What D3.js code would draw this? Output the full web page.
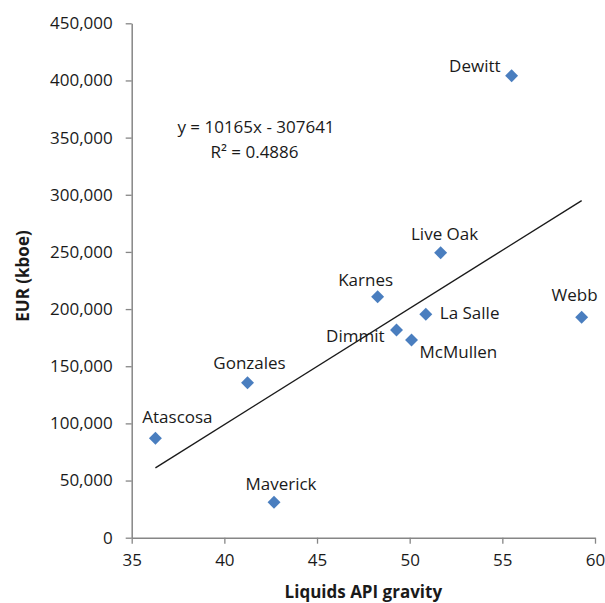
<!DOCTYPE html>
<html>
<head>
<meta charset="utf-8">
<script src="https://cdn.jsdelivr.net/npm/d3@7"></script>
<style>
  body { margin: 0; background: #fff; }
  text { font-family: "Open Sans", "Noto Sans", sans-serif; fill: #1a1a1a; }
</style>
</head>
<body>
<div id="app"></div>
<script>
// data
const counties = ["Dewitt", "Live Oak", "Karnes", "La Salle", "Dimmit", "McMullen", "Webb", "Gonzales", "Atascosa", "Maverick"];
const apiGravity = [55.50, 51.67, 48.27, 50.87, 49.29, 50.10, 59.28, 41.25, 36.28, 42.68];
const eur = [404200, 249300, 210800, 195400, 181700, 172900, 192800, 135600, 87000, 31000];
const xTicks = [35, 40, 45, 50, 55, 60];
const yTicks = [0, 50000, 100000, 150000, 200000, 250000, 300000, 350000, 400000, 450000];
const slope = 10165;
const intercept = -307641;
const rSquared = 0.4886;

// label placement (anchor, dx, dy) relative to each marker
const labelPos = {
    "Dewitt": ["end", -11, -4],
    "Live Oak": ["middle", 4, -13],
    "Karnes": ["middle", -12, -11],
    "La Salle": ["start", 14, 5],
    "Dimmit": ["end", -12, 12],
    "McMullen": ["start", 8, 18],
    "Webb": ["middle", -7, -16],
    "Gonzales": ["middle", 2, -14],
    "Atascosa": ["middle", 22, -15],
    "Maverick": ["middle", 7, -12]
};

const W = 605, H = 603;
const margin = { left: 131.7, top: 23.3, right: 10, bottom: 65.3 };
const bounds = {
    width: 595 - margin.left,
    height: 537.7 - margin.top
};

const svgRoot = d3.select('#app')
    .append('svg')
    .attr('width', W)
    .attr('height', H)
const svg = svgRoot.append('g')
    .attr('transform', `translate(${margin.left},${margin.top})`)

const xScale = d3.scaleLinear().domain([35, 60]).range([0, bounds.width])
const yScale = d3.scaleLinear().domain([0, 450000]).range([bounds.height, 0])

const axisColor = '#868686'

const xAxis = svg.append('g')
    .attr('transform', `translate(0,${bounds.height})`)
    .call(d3.axisBottom(xScale).tickValues(xTicks).tickSize(6).tickSizeOuter(0).tickPadding(10))
const yAxis = svg.append('g')
    .call(d3.axisLeft(yScale).tickValues(yTicks).tickSize(6).tickSizeOuter(0).tickPadding(13)
        .tickFormat(d3.format(',')))

for (const ax of [xAxis, yAxis]) {
    ax.select('.domain').attr('stroke', axisColor).attr('stroke-width', 1.5)
    ax.selectAll('.tick line').attr('stroke', axisColor).attr('stroke-width', 1.3)
    ax.selectAll('.tick text')
        .attr('fill', '#1a1a1a')
        .style('font-family', '"Open Sans", sans-serif')
        .style('font-size', '17px')
}

// trend line across the data range
const xExtent = d3.extent(apiGravity)
svg.append('line')
    .attr('x1', xScale(xExtent[0]))
    .attr('y1', yScale(slope * xExtent[0] + intercept))
    .attr('x2', xScale(xExtent[1]))
    .attr('y2', yScale(slope * xExtent[1] + intercept))
    .attr('stroke', '#1a1a1a')
    .attr('stroke-width', 1.4)

const points = counties.map((c, i) => ({ name: c, x: apiGravity[i], y: eur[i] }))

svg.selectAll('.dot')
    .data(points)
    .join('path')
    .attr('class', 'dot')
    .attr('fill', '#4a7ebf')
    .attr('transform', d => `translate(${xScale(d.x)},${yScale(d.y)}) rotate(45)`)
    .attr('d', d3.symbol().type(d3.symbolSquare).size(84))

svg.selectAll('.lbl')
    .data(points)
    .join('text')
    .attr('class', 'lbl')
    .attr('x', d => xScale(d.x) + labelPos[d.name][1])
    .attr('y', d => yScale(d.y) + labelPos[d.name][2])
    .attr('text-anchor', d => labelPos[d.name][0])
    .style('font-size', '17px')
    .text(d => d.name)

// regression equation
const eq = svgRoot.append('g').attr('text-anchor', 'middle').style('font-size', '17px')
eq.append('text').attr('x', 256).attr('y', 133)
    .text(`y = ${slope}x ${intercept < 0 ? '-' : '+'} ${Math.abs(intercept)}`)
eq.append('text').attr('x', 254.5).attr('y', 158)
    .text(`R² = ${rSquared}`)

// axis titles
svgRoot.append('text')
    .attr('x', margin.left + bounds.width / 2)
    .attr('y', 598)
    .attr('text-anchor', 'middle')
    .style('font-size', '17px')
    .style('font-weight', 'bold')
    .text('Liquids API gravity')

svgRoot.append('text')
    .attr('transform', 'translate(29,276) rotate(-90)')
    .attr('text-anchor', 'middle')
    .style('font-size', '17px')
    .style('font-weight', 'bold')
    .text('EUR (kboe)')
</script>
</body>
</html>
